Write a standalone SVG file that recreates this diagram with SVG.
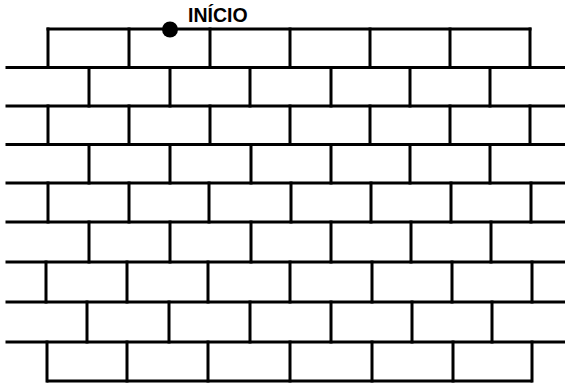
<svg xmlns="http://www.w3.org/2000/svg" width="565" height="383" viewBox="0 0 565 383">
<style>
.l{stroke:#000;stroke-width:3;fill:none;stroke-linecap:square}
.t{font-family:"Liberation Sans",Arial,sans-serif;font-weight:bold;font-size:19.5px;fill:#000}
</style>
<rect width="565" height="383" fill="#fff"/>
<g id="wall" class="l">
<path d="M48 29H530M7 67.5H565M7 106H565M7 144.5H565M7 183H565M7 222H565M7 262H565M7 302H565M7 342H565M48 381H531"/>
<path id="row1" d="M48 29V67.5M129 29V67.5M210 29V67.5M290 29V67.5M370 29V67.5M450 29V67.5M530 29V67.5"/>
<path id="row2" d="M89 67.5V106M170 67.5V106M250 67.5V106M331 67.5V106M410 67.5V106M490 67.5V106"/>
<path id="row3" d="M48 106V144.5M129 106V144.5M210 106V144.5M290 106V144.5M370 106V144.5M450 106V144.5M530 106V144.5"/>
<path id="row4" d="M89 144.5V183M170 144.5V183M251 144.5V183M331 144.5V183M410 144.5V183M490 144.5V183"/>
<path id="row5" d="M48 183V222M129 183V222M209 183V222M291 183V222M371 183V222M451 183V222M531 183V222"/>
<path id="row6" d="M89 222V262M170 222V262M251 222V262M331 222V262M411 222V262M491 222V262"/>
<path id="row7" d="M46 262V302M127 262V302M208 262V302M290 262V302M372 262V302M452 262V302M532 262V302"/>
<path id="row8" d="M87 302V342M169 302V342M250 302V342M331 302V342M412 302V342M492 302V342"/>
<path id="row9" d="M47 342V381M127 342V381M208 342V381M290 342V381M372 342V381M453 342V381M532 342V381"/>
</g>
<g id="start">
<circle cx="170" cy="29.5" r="8" fill="#000"/>
<text class="t" x="188" y="22">INÍCIO</text>
</g>
</svg>
